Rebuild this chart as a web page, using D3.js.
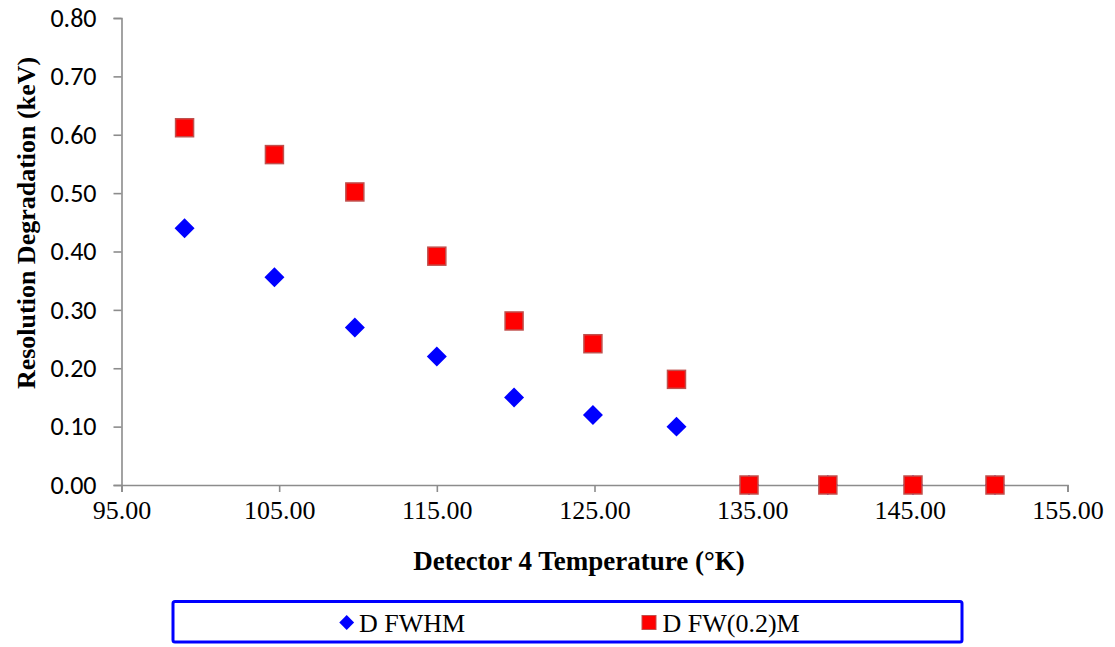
<!DOCTYPE html>
<html>
<head>
<meta charset="utf-8">
<script src="https://cdn.jsdelivr.net/npm/d3@7"></script>
<style>
  html, body { margin: 0; padding: 0; background: #fff; }
  svg { display: block; }
</style>
</head>
<body>
<svg id="chart" width="1115" height="647"></svg>
<script>
// Detector temperature (°K) for each measurement
const temperatures = [99.0, 104.7, 109.8, 115.0, 119.9, 124.9, 130.2, 134.8, 139.8, 145.2, 150.4];
// Resolution degradation (keV)
const fwhm = [0.44, 0.356, 0.27, 0.22, 0.15, 0.12, 0.10, 0, 0, 0, 0];
const fw02m = [0.612, 0.566, 0.502, 0.392, 0.281, 0.242, 0.181, 0, 0, 0, 0];
const seriesNames = ["D FWHM", "D FW(0.2)M"];
const xTicks = [95, 105, 115, 125, 135, 145, 155];
const yTicks = [0, 0.1, 0.2, 0.3, 0.4, 0.5, 0.6, 0.7, 0.8];

const SERIF = "\"Liberation Serif\", \"Times New Roman\", Tinos, serif";
const SANS = "Carlito, Calibri, \"Open Sans\", sans-serif";

const svg = d3.select("#chart");
const x = d3.scaleLinear().domain([95, 155]).range([121.5, 1067.5]);
const y = d3.scaleLinear().domain([0, 0.8]).range([485, 18]);
const axisColor = "#8c8c8c";

// Y axis
const yAxis = svg.append("g")
  .attr("transform", `translate(${x(95)},0)`)
  .call(d3.axisLeft(y).tickValues(yTicks).tickFormat(d3.format(".2f")).tickSize(8).tickPadding(17));
yAxis.select(".domain").attr("stroke", axisColor).attr("stroke-width", 1.6);
yAxis.selectAll(".tick line").attr("stroke", axisColor).attr("stroke-width", 1.6);
yAxis.selectAll(".tick text").attr("fill", "#000").style("font-family", SANS).style("font-size", "26px");

// X axis
const xAxis = svg.append("g")
  .attr("transform", `translate(0,${y(0)})`)
  .call(d3.axisBottom(x).tickValues(xTicks).tickFormat(d3.format(".2f")).tickSize(7).tickPadding(9));
xAxis.select(".domain").attr("stroke", axisColor).attr("stroke-width", 1.6);
xAxis.selectAll(".tick line").attr("stroke", axisColor).attr("stroke-width", 1.6);
xAxis.selectAll(".tick text").attr("fill", "#000").style("font-family", SERIF).style("font-size", "26px");

// Axis titles
svg.append("text")
  .attr("x", 579).attr("y", 570)
  .attr("text-anchor", "middle")
  .style("font-family", SERIF).style("font-weight", "bold").style("font-size", "27px")
  .text("Detector 4 Temperature (°K)");

svg.append("text")
  .attr("transform", "translate(35,223) rotate(-90)")
  .attr("text-anchor", "middle")
  .style("font-family", SERIF).style("font-weight", "bold").style("font-size", "26px")
  .text("Resolution Degradation (keV)");

// Markers: diamonds first so the squares sit on top where they overlap
const diamond = d3.symbol().type(d3.symbolSquare).size(200);
const pts = temperatures.map((t, i) => ({ t, a: fwhm[i], b: fw02m[i] }));
svg.append("g").selectAll("path").data(pts).join("path")
  .attr("d", diamond)
  .attr("transform", d => `translate(${x(d.t)},${y(d.a)}) rotate(45)`)
  .attr("fill", "#0000ff");
svg.append("g").selectAll("rect").data(pts).join("rect")
  .attr("x", d => x(d.t) - 9).attr("y", d => y(d.b) - 9)
  .attr("width", 18).attr("height", 18)
  .attr("fill", "#ff0000").attr("stroke", "#c0504d").attr("stroke-width", 1.5);

// Legend
const legend = svg.append("g");
legend.append("rect")
  .attr("x", 173).attr("y", 601.5).attr("width", 789).attr("height", 40.5).attr("rx", 2)
  .attr("fill", "#fff").attr("stroke", "#0000ff").attr("stroke-width", 3);
legend.append("path")
  .attr("d", d3.symbol().type(d3.symbolSquare).size(110))
  .attr("transform", "translate(346.7,622.5) rotate(45)").attr("fill", "#0000ff");
legend.append("text").attr("x", 359).attr("y", 631.5)
  .style("font-family", SERIF).style("font-size", "26px").text(seriesNames[0]);
legend.append("rect")
  .attr("x", 642).attr("y", 615.5).attr("width", 14).attr("height", 14)
  .attr("fill", "#ff0000").attr("stroke", "#c0504d").attr("stroke-width", 1);
legend.append("text").attr("x", 662.5).attr("y", 631.5)
  .style("font-family", SERIF).style("font-size", "26px").text(seriesNames[1]);
</script>
</body>
</html>
